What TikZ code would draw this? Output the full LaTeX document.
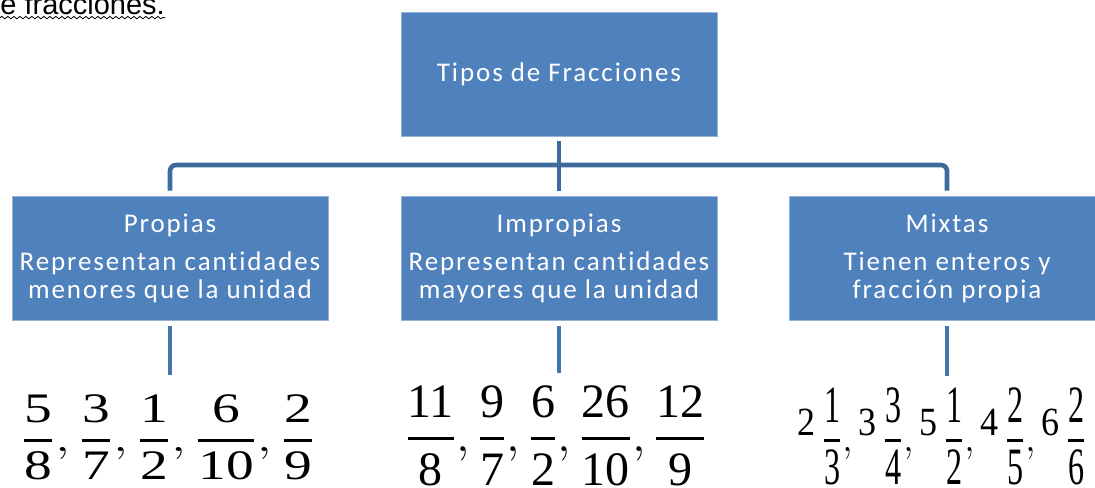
\documentclass[tikz,border=0pt]{standalone}
\usepackage{amsmath}
\usepackage{graphicx}
\usepackage{fontspec}
\setmainfont{Carlito}
\newfontfamily\boxfont[LetterSpace=7,Ligatures={NoCommon}]{Carlito}
\newfontfamily\fracfont{Liberation Serif}
\newfontfamily\notefont{Liberation Sans}
\usetikzlibrary{decorations.pathmorphing}
\definecolor{boxblue}{HTML}{4F81BD}
\definecolor{lineblue}{HTML}{3D6B9E}
\definecolor{stubblue}{HTML}{4675AD}
\newcommand{\fr}[2]{\genfrac{}{}{1.3pt}{0}{\text{#1}}{\text{#2}}}
\newcommand{\mfr}[3]{\raisebox{8pt}{\fontsize{20}{21}\selectfont #1}\,\genfrac{}{}{1.3pt}{0}{\text{\scalebox{0.85}[1.25]{#2}}}{\text{\scalebox{0.85}[1.25]{#3}}}}
\tikzstyle{tipo}=[rectangle,fill=boxblue,draw=boxblue!60!white,line width=0.4pt,minimum width=158pt,minimum height=62pt,inner sep=0pt,text=white,align=center,font=\boxfont\fontsize{13.5}{14}\selectfont]
\tikzstyle{link}=[draw=lineblue,line width=2.3pt,shorten <=2.5pt,shorten >=2.5pt]
\tikzstyle{stub}=[draw=stubblue,line width=2.3pt,shorten <=3pt]
\tikzstyle{ejemplo}=[inner sep=0pt,anchor=base,font=\fracfont\fontsize{21}{24}\selectfont]
\tikzstyle{nota}=[inner sep=0pt,anchor=base west,font=\notefont\fontsize{14.5}{16}\selectfont]

\begin{document}
\begin{tikzpicture}[x=0.5pt,y=-0.5pt]
    \useasboundingbox (0,0) rectangle (1095,487);
    % encabezado cortado
    \node[nota] (nota) at (0,14) {e fracciones.};
    \draw[decorate,decoration={snake,amplitude=0.6pt,segment length=3pt}]
      ([yshift=-1.8pt]nota.base west) -- ([yshift=-1.8pt]nota.base east);

    \node[tipo] (tipos) at (559,74) {Tipos de Fracciones};
    \node[tipo] (prop) at (170,258) {Propias\\[5pt]Representan cantidades\\menores que la unidad};
    \node[tipo] (impr) at (559,258) {Impropias\\[5pt]Representan cantidades\\mayores que la unidad};
    \node[tipo] (mixt) at (947,258) {Mixtas\\[5pt]Tienen enteros y\\fracci\'on propia};
    \coordinate (hub) at (559,165);

    \draw[link] (tipos) -- (impr);
    \draw[link,rounded corners=3pt] (prop.north) |- (hub) -| (mixt.north);

    \node[ejemplo] (ejprop) at (168,451) {\scalebox{1.32}[1]{$\fr{5}{8},\fr{3}{7},\fr{1}{2},\fr{6}{10},\fr{2}{9}$}};
    \node[ejemplo,font=\fracfont\fontsize{24}{26}\selectfont] (ejimpr) at (556,451) {$\fr{11}{8},\fr{9}{7},\fr{6}{2},\fr{26}{10},\fr{12}{9}$};
    \node[ejemplo] (ejmixt) at (942,451) {\scalebox{0.9}[1]{$\mfr{2}{1}{3},\mfr{3}{3}{4},\mfr{5}{1}{2},\mfr{4}{2}{5},\mfr{6}{2}{6}$}};

    \draw[stub,shorten >=10pt] (prop.south) -- (prop.south |- ejprop.north);
    \draw[stub,shorten >=6pt] (impr.south) -- (impr.south |- ejimpr.north);
    \draw[stub,shorten >=6pt] (mixt.south) -- (mixt.south |- ejmixt.north);
\end{tikzpicture}
\end{document}
